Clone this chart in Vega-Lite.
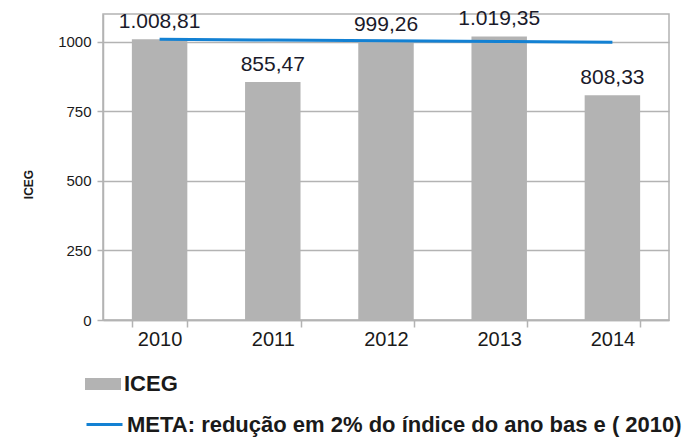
{
  "$schema": "https://vega.github.io/schema/vega-lite/v6.json",
  "width": 566,
  "height": 306,
  "autosize": {"type": "none"},
  "padding": {"left": 103, "top": 14, "right": 28, "bottom": 117},
  "background": "white",
  "config": {
    "view": {"stroke": "#b3b3b3", "strokeWidth": 1.5},
    "font": "Liberation Sans"
  },
  "datasets": {
    "iceg": [
      {"ano": "2010", "valor": 1008.81, "rotulo": "1.008,81", "serie": "ICEG"},
      {"ano": "2011", "valor": 855.47, "rotulo": "855,47", "serie": "ICEG"},
      {"ano": "2012", "valor": 999.26, "rotulo": "999,26", "serie": "ICEG"},
      {"ano": "2013", "valor": 1019.35, "rotulo": "1.019,35", "serie": "ICEG"},
      {"ano": "2014", "valor": 808.33, "rotulo": "808,33", "serie": "ICEG"}
    ],
    "meta": [
      {"ano": "2010", "valor": 1008.81, "serie": "META: redução em 2% do índice do ano bas e ( 2010)"},
      {"ano": "2011", "valor": 1006.3, "serie": "META: redução em 2% do índice do ano bas e ( 2010)"},
      {"ano": "2012", "valor": 1003.6, "serie": "META: redução em 2% do índice do ano bas e ( 2010)"},
      {"ano": "2013", "valor": 1001.0, "serie": "META: redução em 2% do índice do ano bas e ( 2010)"},
      {"ano": "2014", "valor": 998.4, "serie": "META: redução em 2% do índice do ano bas e ( 2010)"}
    ]
  },
  "encoding": {
    "x": {
      "field": "ano",
      "type": "nominal",
      "scale": {"paddingInner": 0.51, "paddingOuter": 0.255},
      "axis": {
        "title": null,
        "labelAngle": 0,
        "labelFont": "Liberation Sans",
        "labelFontSize": 20,
        "labelColor": "#1a1a1a",
        "labelPadding": 2,
        "tickSize": 7,
        "tickColor": "#b3b3b3",
        "tickWidth": 1.5,
        "tickBand": "extent",
        "domainColor": "#b3b3b3",
        "domainWidth": 1.5
      }
    },
    "y": {
      "field": "valor",
      "type": "quantitative",
      "scale": {"domain": [0, 1100], "nice": false, "zero": true},
      "axis": {
        "title": "ICEG",
        "values": [0, 250, 500, 750, 1000],
        "format": "d",
        "labelFont": "Liberation Sans",
        "labelFontSize": 15,
        "labelColor": "#1a1a1a",
        "labelPadding": 6,
        "tickSize": 6,
        "tickColor": "#b3b3b3",
        "tickWidth": 1.5,
        "domainColor": "#b3b3b3",
        "domainWidth": 1.5,
        "gridColor": "#b3b3b3",
        "gridWidth": 1.5,
        "titleFont": "Liberation Sans",
        "titleFontWeight": "bold",
        "titleFontSize": 12,
        "titleColor": "#1a1a1a",
        "titleX": -75,
        "titleY": 170,
        "titleAlign": "center",
        "titleBaseline": "middle",
        "titleAngle": -90
      }
    }
  },
  "layer": [
    {
      "data": {"name": "iceg"},
      "mark": {"type": "bar"},
      "encoding": {
        "fill": {
          "field": "serie",
          "type": "nominal",
          "scale": {"range": ["#b3b3b3"]},
          "legend": {
            "title": null,
            "orient": "none",
            "legendX": -18,
            "legendY": 352,
            "padding": 0,
            "symbolType": "M-1,-0.333H1V0.333H-1Z",
            "symbolSize": 1296,
            "symbolStrokeWidth": 0,
            "labelOffset": 3,
            "labelFont": "Liberation Sans",
            "labelFontWeight": "bold",
            "labelFontSize": 22,
            "labelColor": "#1a1a1a",
            "labelLimit": 700
          }
        }
      }
    },
    {
      "data": {"name": "iceg"},
      "mark": {"type": "text", "baseline": "alphabetic", "dy": -11, "fontSize": 21, "font": "Liberation Sans", "color": "#1a1a2a"},
      "encoding": {"text": {"field": "rotulo"}}
    },
    {
      "data": {"name": "meta"},
      "mark": {"type": "line", "strokeWidth": 3},
      "encoding": {
        "stroke": {
          "field": "serie",
          "type": "nominal",
          "scale": {"range": ["#1381d3"]},
          "legend": {
            "title": null,
            "orient": "none",
            "legendX": -18,
            "legendY": 391,
            "padding": 0,
            "symbolType": "stroke",
            "symbolSize": 1296,
            "symbolStrokeWidth": 3,
            "labelOffset": 3,
            "labelFont": "Liberation Sans",
            "labelFontWeight": "bold",
            "labelFontSize": 22,
            "labelColor": "#1a1a1a",
            "labelLimit": 700
          }
        }
      }
    }
  ]
}
